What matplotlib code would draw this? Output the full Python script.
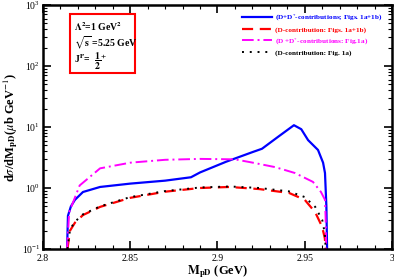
import matplotlib
matplotlib.use('Agg')
from matplotlib import pyplot as plt
from matplotlib.ticker import MultipleLocator, LogLocator, NullFormatter
from matplotlib.patches import Rectangle

plt.rcParams['font.family'] = 'Liberation Serif'
plt.rcParams['mathtext.fontset'] = 'stix'

# D + D* contributions (Figs. 1a+1b)
blue_x = [2.8138, 2.8143, 2.8160, 2.8183, 2.8229, 2.8327, 2.8500, 2.8700, 2.8848, 2.8900,
          2.9050, 2.9203, 2.9255, 2.9350, 2.9438, 2.9480, 2.9519, 2.9576, 2.9605, 2.9616, 2.9624, 2.9628]
blue_y = [0.1, 0.35, 0.50, 0.64, 0.86, 1.04, 1.18, 1.32, 1.50, 1.80,
          2.7, 3.9, 4.4, 7.0, 10.7, 9.2, 6.1, 4.2, 2.6, 1.76, 0.5, 0.1]

# D contribution (Figs. 1a+1b)
red_x = [2.8140, 2.8155, 2.8183, 2.8229, 2.8327, 2.8500, 2.8700, 2.8900, 2.9070, 2.9240,
         2.9410, 2.9500, 2.9560, 2.9600, 2.9615, 2.9620]
red_y = [0.1, 0.20, 0.27, 0.36, 0.49, 0.69, 0.87, 1.00, 1.04, 0.96,
         0.83, 0.64, 0.40, 0.23, 0.15, 0.1]

# D* + D* contributions (Fig. 1a)
mag_x = [2.8138, 2.8150, 2.8210, 2.8327, 2.8500, 2.8700, 2.8900, 2.9100, 2.9203, 2.9330,
         2.9444, 2.9547, 2.9593, 2.9616, 2.9620, 2.9623]
mag_y = [0.1, 0.40, 1.10, 2.10, 2.60, 2.90, 3.00, 2.95, 2.60, 2.20,
         1.76, 1.26, 0.86, 0.64, 0.3, 0.1]

# D contribution (Fig. 1a)
blk_x = [2.8140, 2.8155, 2.8183, 2.8229, 2.8327, 2.8500, 2.8700, 2.8900, 2.9070, 2.9240,
         2.9410, 2.9500, 2.9560, 2.9600, 2.9615, 2.9620]
blk_y = [0.1, 0.21, 0.28, 0.37, 0.50, 0.71, 0.89, 1.02, 1.06, 1.00,
         0.88, 0.71, 0.49, 0.30, 0.18, 0.1]

fig = plt.figure(figsize=(3.94, 2.80), dpi=100)
ax = fig.add_axes([43/394, 31/280, 349/394, 244/280])

ax.plot(blue_x, blue_y, color='#0000ff', lw=1.6, label='(D+D$^{*}$-contributions; Figs. 1a+1b)')
ax.plot(red_x, red_y, color='#ff0000', lw=1.6, ls=(0, (5, 3)), label='(D-contribution: Figs. 1a+1b)')
ax.plot(mag_x, mag_y, color='#ff00ff', lw=1.4, ls=(0, (6, 2, 1, 2)), label='(D +D$^{*}$-contributions: Fig.1a)')
ax.plot(blk_x, blk_y, color='black', lw=1.4, ls=(0, (1, 3)), label='(D-contribution: Fig. 1a)')

ax.set_yscale('log')
ax.set_xlim(2.8, 3.0)
ax.set_ylim(0.1, 1000)
ax.xaxis.set_major_locator(MultipleLocator(0.05))
ax.xaxis.set_minor_locator(MultipleLocator(0.01))
ax.yaxis.set_major_locator(LogLocator(base=10, numticks=10))
ax.yaxis.set_minor_locator(LogLocator(base=10, subs=range(2, 10), numticks=10))
ax.yaxis.set_minor_formatter(NullFormatter())
ax.set_xticks([2.8, 2.85, 2.9, 2.95, 3.0])
ax.set_xticklabels(['2.8', '2.85', '2.9', '2.95', '3'])
ax.tick_params(which='both', direction='in', top=True, right=True, labelsize=7)
ax.tick_params(axis='x', pad=3.5)
ax.tick_params(axis='y', pad=2)
ax.tick_params(which='major', length=6, width=1.2)
ax.tick_params(which='minor', length=3, width=0.8)
for s in ax.spines.values():
    s.set_linewidth(1.8)

ax.set_xlabel(r'$\mathbf{M}_{\mathbf{pD}}$ (GeV)', fontsize=9, fontweight='bold', labelpad=0)
ax.set_ylabel(r'd$\sigma$/dM$_{\mathbf{pD}}$($\mu$b GeV$^{-1}$)', fontsize=9, fontweight='bold', labelpad=1)

leg = ax.legend(loc='upper right', bbox_to_anchor=(0.985, 0.985), frameon=False,
                handlelength=4.2, handletextpad=0.3, labelspacing=0.45, borderaxespad=0.2,
                prop={'weight': 'bold', 'size': 5.2})
for txt, line in zip(leg.get_texts(), leg.get_lines()):
    txt.set_color(line.get_color())

ax.add_patch(Rectangle((70/394, 207/280), 65/394, 59/280, transform=fig.transFigure,
                       fill=False, edgecolor='#ff0000', lw=1.5, clip_on=False))
fig.text(74/394, 253/280, r'$\mathbf{\Lambda}^{\mathbf{2}}$=1 GeV$^{\mathbf{2}}$', fontsize=7, fontweight='bold', va='center')
fig.text(74/394, 237/280, r'$\sqrt{\mathbf{s}}$ =5.25 GeV', fontsize=7, fontweight='bold', va='center')
fig.text(74/394, 219/280, r'J$^{\mathbf{P}}$=  $\mathbf{\dfrac{1}{2}}^{\mathbf{+}}$', fontsize=7, fontweight='bold', va='center')

fig.savefig('out.png', dpi=100)
